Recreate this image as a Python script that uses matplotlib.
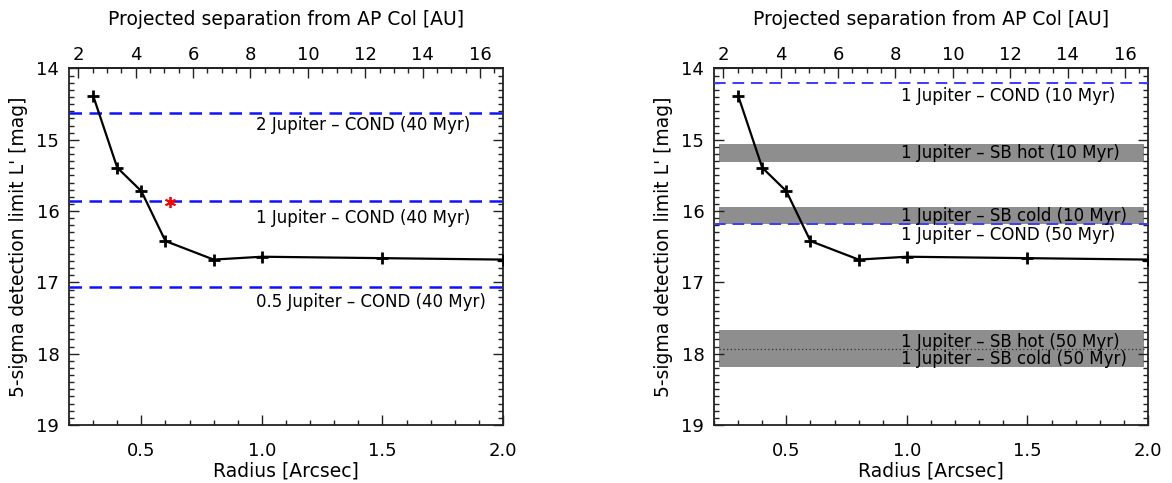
import matplotlib
matplotlib.use("Agg")
import matplotlib.pyplot as plt
from matplotlib.ticker import MultipleLocator, FixedLocator

# ---- data ----
radius = [0.3, 0.4, 0.5, 0.6, 0.8, 1.0, 1.5, 2.0]
limit_mag = [14.38, 15.39, 15.72, 16.42, 16.68, 16.64, 16.66, 16.68]
distance_pc = 8.4

left_lines = [14.62, 15.86, 17.07]
left_labels = ["2 Jupiter – COND (40 Myr)", "1 Jupiter – COND (40 Myr)",
               "0.5 Jupiter – COND (40 Myr)"]
left_label_y = [14.79, 16.10, 17.28]
candidate_r = [0.62]
candidate_mag = [15.87]

right_lines = [14.21, 16.18]
right_bands = [(15.06, 15.31), (15.94, 16.18), (17.67, 18.19)]
band_x = [0.22, 1.985]
right_dotted = [17.94]
right_labels = ["1 Jupiter – COND (10 Myr)", "1 Jupiter – SB hot (10 Myr)",
                "1 Jupiter – SB cold (10 Myr)", "1 Jupiter – COND (50 Myr)",
                "1 Jupiter – SB hot (50 Myr)", "1 Jupiter – SB cold (50 Myr)"]
right_label_y = [14.38, 15.19, 16.07, 16.33, 17.84, 18.08]
label_x = 0.975

xlim = (0.2, 2.0)
ylim = (19.0, 14.0)
bottom_ticks = [0.5, 1.0, 1.5, 2.0]
top_ticks = [2, 4, 6, 8, 10, 12, 14, 16]
y_ticks = [14, 15, 16, 17, 18, 19]

plt.rcParams['font.family'] = ['DejaVu Sans']
FS_LAB = 13.5
FS_TICK = 13
FS_TXT = 12

W, H = 1172, 483
fig = plt.figure(figsize=(W / 100, H / 100), dpi=100)
ax1 = fig.add_axes([69 / W, (H - 425) / H, 434 / W, 356.5 / H])
ax2 = fig.add_axes([714 / W, (H - 425) / H, 434 / W, 356.5 / H])

axcol = '#222222'


def style(ax):
    ax.set_xlim(*xlim)
    ax.set_ylim(*ylim)
    for s in ax.spines.values():
        s.set_linewidth(1.3)
        s.set_color(axcol)
    ax.xaxis.set_major_locator(FixedLocator(bottom_ticks))
    ax.xaxis.set_minor_locator(MultipleLocator(0.1))
    ax.yaxis.set_major_locator(FixedLocator(y_ticks))
    ax.yaxis.set_minor_locator(MultipleLocator(0.1))
    ax.set_xticklabels([f"{t:.1f}" for t in bottom_ticks])
    ax.set_yticklabels([str(t) for t in y_ticks])
    ax.tick_params(which='both', direction='in', top=False, right=True,
                   labelsize=FS_TICK, color=axcol, width=1.0)
    ax.tick_params(which='major', length=7)
    ax.tick_params(axis='x', which='major', pad=12)
    ax.tick_params(axis='y', which='major', pad=7)
    ax.tick_params(which='minor', length=3.5)
    ax.set_xlabel("Radius [Arcsec]", fontsize=FS_LAB, labelpad=1)
    ax.set_ylabel("5-sigma detection limit L' [mag]", fontsize=FS_LAB,
                  labelpad=6)
    sec = ax.secondary_xaxis('top', functions=(lambda r: r * distance_pc,
                                               lambda a: a / distance_pc))
    sec.xaxis.set_major_locator(FixedLocator(top_ticks))
    sec.xaxis.set_minor_locator(MultipleLocator(0.5))
    sec.tick_params(which='both', direction='in', labelsize=FS_TICK,
                    color=axcol, width=1.0)
    sec.tick_params(which='major', length=7, pad=3)
    sec.tick_params(which='minor', length=3.5)
    sec.spines['top'].set_linewidth(1.3)
    sec.spines['top'].set_color(axcol)
    sec.set_xlabel("Projected separation from AP Col [AU]", fontsize=FS_LAB,
                   labelpad=15)
    ax.plot(radius, limit_mag, color='black', lw=1.6, marker='+', ms=8,
            mew=2.0, zorder=5)


style(ax1)
style(ax2)

# left panel
for yv in left_lines:
    ax1.axhline(yv, color='#1010ff', lw=1.8, ls=(0, (5, 3)), zorder=3)
for txt, yv in zip(left_labels, left_label_y):
    ax1.text(label_x, yv, txt, ha='left', va='center', fontsize=FS_TXT)
ax1.plot(candidate_r, candidate_mag, ls='none', marker=(6, 2, 0), ms=8,
         mew=1.3, color='red', zorder=6)

# right panel
for lo, hi in right_bands:
    ax2.fill_between(band_x, [lo, lo], [hi, hi], color='#8e8e8e', lw=0,
                     zorder=1)
for yv in right_lines:
    ax2.axhline(yv, color='#3a3aff', lw=1.4, ls=(0, (6, 3.5)), zorder=3)
for yv in right_dotted:
    ax2.plot(band_x, [yv, yv], color='#333333', lw=0.9, ls=(0, (1, 2)),
             zorder=2)
for txt, yv in zip(right_labels, right_label_y):
    ax2.text(label_x, yv, txt, ha='left', va='center', fontsize=FS_TXT,
             zorder=4)

fig.savefig("out.png", dpi=100)
